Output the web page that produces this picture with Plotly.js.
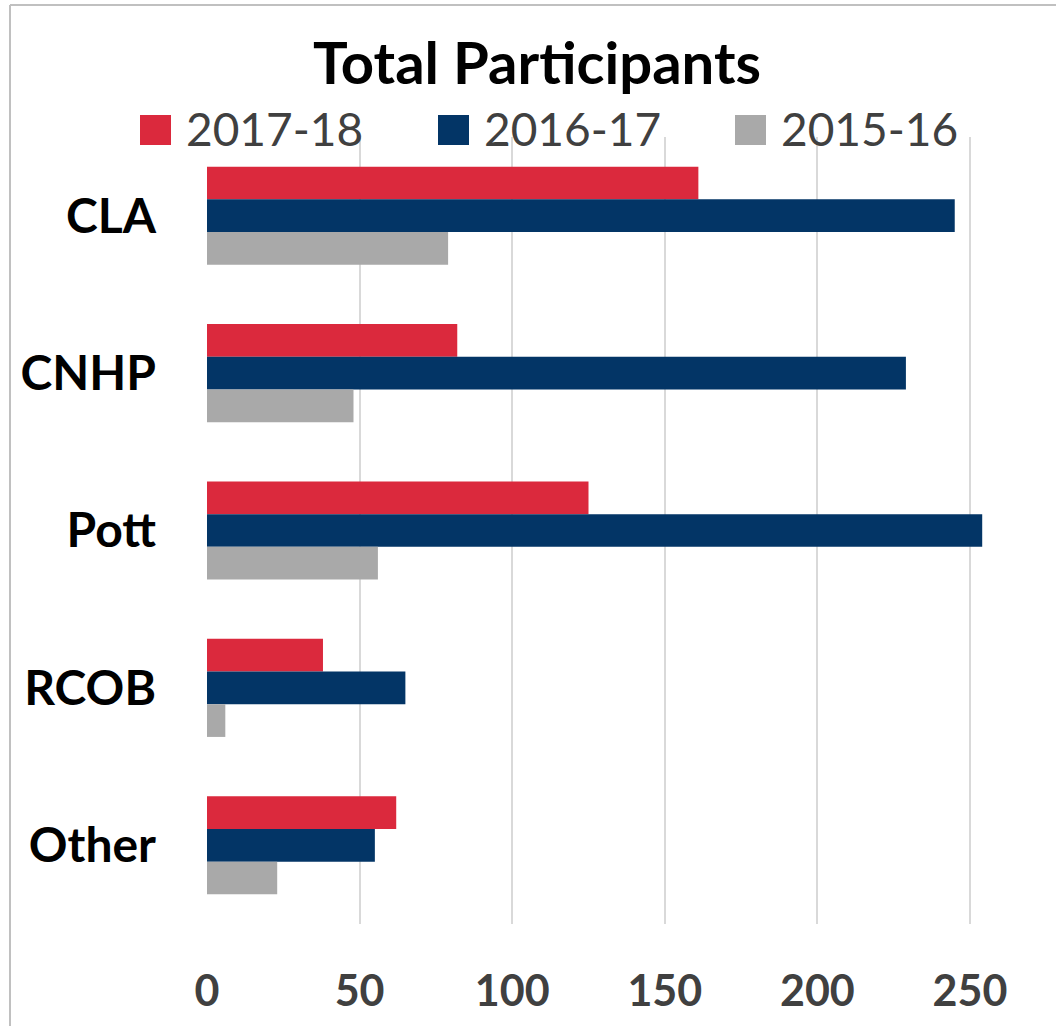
<!DOCTYPE html>
<html>
<head>
<meta charset="utf-8">
<script src="https://cdn.plot.ly/plotly-3.0.1.min.js"></script>
<style>
  html, body { margin: 0; padding: 0; background: #ffffff; }
  #chart { width: 1056px; height: 1026px; }
</style>
</head>
<body>
<div id="chart"></div>
<script>
// ---- Data ----
var categories = ["CLA", "CNHP", "Pott", "RCOB", "Other"];
var seriesNames = ["2017-18", "2016-17", "2015-16"];
var values2017_18 = [161, 82, 125, 38, 62];
var values2016_17 = [245, 229, 254, 65, 55];
var values2015_16 = [79, 48, 56, 6, 23];
var seriesColors = ["#DB293D", "#033566", "#A9A9A9"];
var xTickValues = [0, 50, 100, 150, 200, 250];
var chartTitle = "Total Participants";

var seriesValues = [values2017_18, values2016_17, values2015_16];

// ---- Layout geometry (pixels) ----
var W = 1056, H = 1026;
var ML = 207, MR = 0, MT = 137, MB = 102;
var PW = W - ML - MR, PH = H - MT - MB;
function px(x) { return (x - ML) / PW; }
function py(y) { return 1 - (y - MT) / PH; }

var traces = seriesNames.map(function (name, i) {
  return {
    type: "bar",
    orientation: "h",
    name: name,
    x: seriesValues[i],
    y: categories,
    marker: { color: seriesColors[i], line: { width: 0 } },
    showlegend: false,
    hoverinfo: "x+y+name"
  };
});

// custom legend (large square swatches)
var legendSquareX = [140, 438, 735];
var shapes = [];
var annotations = [];
seriesNames.forEach(function (name, i) {
  var x0 = legendSquareX[i];
  shapes.push({
    type: "rect", xref: "paper", yref: "paper",
    x0: px(x0), x1: px(x0 + 31), y0: py(145), y1: py(115),
    fillcolor: seriesColors[i], line: { width: 0 }
  });
  annotations.push({
    xref: "paper", yref: "paper",
    x: px(x0 + 44), y: py(129),
    xanchor: "left", yanchor: "middle",
    text: name, showarrow: false,
    font: { family: "Lato, sans-serif", size: 46, color: "#404040" }
  });
});

// chart border (top and left edges, as in the reference)
shapes.push({
  type: "line", xref: "paper", yref: "paper",
  x0: px(10), x1: px(1060), y0: py(5), y1: py(5),
  line: { color: "#C0C0C0", width: 2 }
});
shapes.push({
  type: "line", xref: "paper", yref: "paper",
  x0: px(10), x1: px(10), y0: py(5), y1: py(1030),
  line: { color: "#C0C0C0", width: 2 }
});

var layout = {
  width: W, height: H,
  margin: { l: ML, r: MR, t: MT, b: MB, pad: 0 },
  paper_bgcolor: "#ffffff",
  plot_bgcolor: "#ffffff",
  barmode: "group",
  bargap: 0.377,
  bargroupgap: 0,
  title: {
    text: chartTitle,
    x: 537 / W, xanchor: "center",
    y: 1 - 64 / H, yanchor: "middle",
    font: { family: "Lato, sans-serif", size: 58, color: "#000000", weight: 700 }
  },
  xaxis: {
    range: [0, PW / 3.052],
    tickvals: xTickValues,
    ticktext: xTickValues.map(String),
    showgrid: true, gridcolor: "#D9D9D9", gridwidth: 2,
    zeroline: false, showline: false, ticks: "",
    ticklabelstandoff: 38,
    tickfont: { family: "Lato, sans-serif", size: 43, color: "#404040", weight: 700 },
    fixedrange: true
  },
  yaxis: {
    type: "category",
    autorange: "reversed",
    showgrid: false, zeroline: false, showline: false, ticks: "",
    ticklabelstandoff: 50,
    tickfont: { family: "Lato, sans-serif", size: 48, color: "#000000", weight: 700 },
    fixedrange: true
  },
  shapes: shapes,
  annotations: annotations
};

Plotly.newPlot("chart", traces, layout, { displayModeBar: false, responsive: false });
</script>
</body>
</html>
